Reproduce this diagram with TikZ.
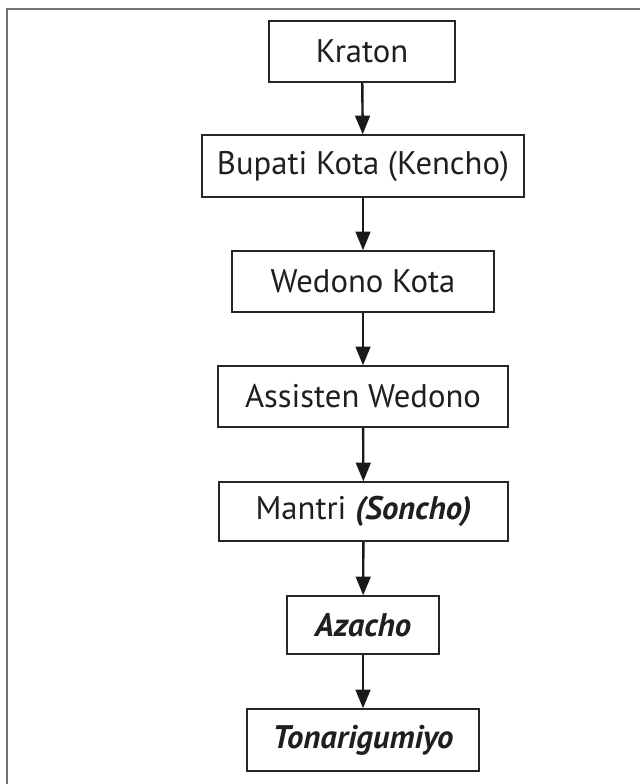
\documentclass[tikz,border=0pt]{standalone}
\usepackage{fontspec}
\setmainfont{PT Sans}
\usetikzlibrary{arrows.meta}
\begin{document}
\begin{tikzpicture}[x=0.75pt,y=-0.75pt,
  level/.style={draw=black!85,line width=1pt,inner sep=0pt,
    font=\fontsize{24.5}{29}\selectfont,text=black!88},
  down/.style={draw=black!90,line width=1.8pt,
    -{Triangle[length=14pt,width=11pt]}},
  frameline/.style={draw=black!55,line width=1.6pt}]
% page extent
\useasboundingbox (0,0) rectangle (640,784);
% outer frame (top and left edges)
\coordinate (fTL) at (7,9);
\coordinate (fTR) at (640,9);
\coordinate (fBL) at (7,784);
\draw[frameline] (fTR) -- (fTL) -- (fBL);
% levels of administration
\node[level,minimum width=186*0.75pt,minimum height=61*0.75pt] (kraton) at (362,51.5) {Kraton};
\node[level,minimum width=322*0.75pt,minimum height=62*0.75pt] (bupati) at (363,166) {Bupati Kota (Kencho)};
\node[level,minimum width=262*0.75pt,minimum height=61*0.75pt] (wedono) at (363,281.5) {Wedono Kota};
\node[level,minimum width=290*0.75pt,minimum height=61*0.75pt] (assisten) at (363,396.5) {Assisten Wedono};
\node[level,minimum width=289*0.75pt,minimum height=59*0.75pt] (mantri) at (363.5,511.5) {Mantri \textbf{\textit{(Soncho)}}};
\node[level,minimum width=152*0.75pt,minimum height=58*0.75pt] (azacho) at (363,625) {\textbf{\textit{Azacho}}};
\node[level,minimum width=232*0.75pt,minimum height=62*0.75pt] (tonari) at (363,740) {\textbf{\textit{Tonarigumiyo}}};
% hierarchy arrows
\draw[down] (kraton) -- (bupati);
\draw[down] (bupati) -- (wedono);
\draw[down] (wedono) -- (assisten);
\draw[down] (assisten) -- (mantri);
\draw[down] (mantri) -- (azacho);
\draw[down] (azacho) -- (tonari);
\end{tikzpicture}
\end{document}
